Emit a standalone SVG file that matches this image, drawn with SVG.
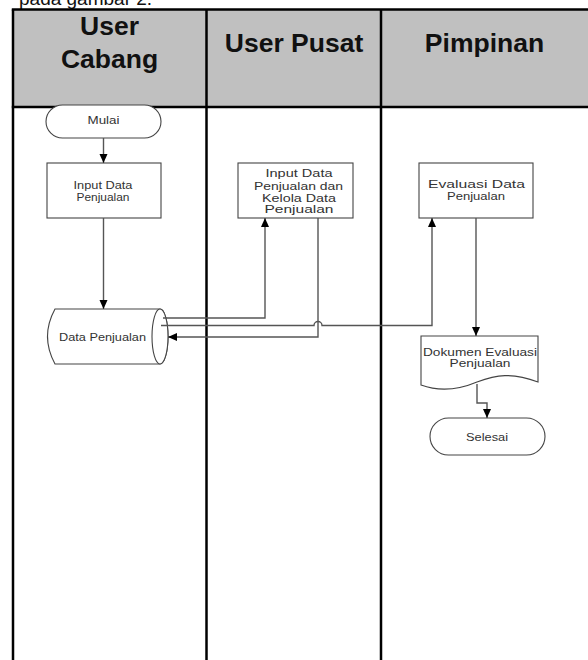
<svg xmlns="http://www.w3.org/2000/svg" width="588" height="660" viewBox="0 0 588 660">
<style>
.lane{stroke:#000;stroke-width:2.5;fill:none}
.hdr{font-family:"Liberation Sans",Arial,sans-serif;font-weight:bold;font-size:26.5px;fill:#111;text-anchor:middle}
.shp{fill:#fff;stroke:#444;stroke-width:1.1}
.lbl{font-family:"Liberation Sans",Arial,sans-serif;font-size:11.5px;fill:#333;text-anchor:middle}
.con{fill:none;stroke:#555;stroke-width:1.4}
</style>
<defs>
<marker id="ah" markerUnits="userSpaceOnUse" markerWidth="10" markerHeight="10" viewBox="0 0 10 10" refX="9" refY="5" orient="auto">
<path d="M0,1 L9,5 L0,9 Z" fill="#000"/>
</marker>
</defs>
<rect width="588" height="660" fill="#fff"/>
<text x="19" y="5" font-family="Liberation Sans,Arial,sans-serif" font-size="19" fill="#111">pada gambar 2.</text>
<g id="lanes">
<rect x="13" y="9.5" width="580" height="97.5" fill="#c0c0c0"/>
<line class="lane" x1="11.8" y1="9.5" x2="590" y2="9.5"/>
<line class="lane" x1="11.8" y1="107" x2="590" y2="107"/>
<line class="lane" x1="13" y1="9.5" x2="13" y2="662"/>
<line class="lane" x1="206.5" y1="9.5" x2="206.5" y2="662"/>
<line class="lane" x1="381" y1="9.5" x2="381" y2="662"/>
<text class="hdr" x="109.5" y="35">User</text>
<text class="hdr" x="109.5" y="68">Cabang</text>
<text class="hdr" x="294" y="52">User Pusat</text>
<text class="hdr" x="484.5" y="52">Pimpinan</text>
</g>
<g id="mulai">
<rect class="shp" x="46" y="105" width="115" height="33" rx="16.5"/>
<text class="lbl" x="103.5" y="124" textLength="32" lengthAdjust="spacingAndGlyphs">Mulai</text>
</g>
<g id="input-cabang">
<rect class="shp" x="47" y="163" width="114" height="55"/>
<text class="lbl" x="103" y="189" textLength="59" lengthAdjust="spacingAndGlyphs">Input Data</text>
<text class="lbl" x="103" y="201" textLength="53" lengthAdjust="spacingAndGlyphs">Penjualan</text>
</g>
<g id="input-pusat">
<rect class="shp" x="238" y="163" width="115" height="55"/>
<text class="lbl" x="299" y="177" textLength="67" lengthAdjust="spacingAndGlyphs">Input Data</text>
<text class="lbl" x="298.5" y="190" textLength="89" lengthAdjust="spacingAndGlyphs">Penjualan dan</text>
<text class="lbl" x="299" y="201.5" textLength="74" lengthAdjust="spacingAndGlyphs">Kelola Data</text>
<text class="lbl" x="299" y="213" textLength="69" lengthAdjust="spacingAndGlyphs">Penjualan</text>
</g>
<g id="evaluasi">
<rect class="shp" x="419" y="163" width="114" height="55"/>
<text class="lbl" x="476.5" y="188" textLength="97" lengthAdjust="spacingAndGlyphs">Evaluasi Data</text>
<text class="lbl" x="476" y="200" textLength="58" lengthAdjust="spacingAndGlyphs">Penjualan</text>
</g>
<g id="data-penjualan">
<path class="shp" d="M55,309 H160 A8,27.5 0 0 1 160,364 H55 Q40,336.5 55,309 Z"/>
<ellipse class="shp" cx="160" cy="336.5" rx="8" ry="27.5"/>
<text class="lbl" x="102.5" y="341" textLength="87" lengthAdjust="spacingAndGlyphs">Data Penjualan</text>
</g>
<g id="dokumen">
<path class="shp" d="M421,336 H538 V382 C512,372 496,375 477,382 C458,390 440,392 421,385 Z"/>
<text class="lbl" x="480" y="356" textLength="114" lengthAdjust="spacingAndGlyphs">Dokumen Evaluasi</text>
<text class="lbl" x="480" y="367" textLength="61" lengthAdjust="spacingAndGlyphs">Penjualan</text>
</g>
<g id="selesai">
<rect class="shp" x="430" y="418" width="115" height="37" rx="18.5"/>
<text class="lbl" x="487" y="441" textLength="42" lengthAdjust="spacingAndGlyphs">Selesai</text>
</g>
<g id="connectors">
<path class="con" d="M103.5,138 V163" marker-end="url(#ah)"/>
<path class="con" d="M103.5,218 V309" marker-end="url(#ah)"/>
<path class="con" d="M163,318 H265 V218" marker-end="url(#ah)"/>
<path class="con" d="M161,325.5 H314 A4,4 0 0 1 322,325.5 H432 V218" marker-end="url(#ah)"/>
<path class="con" d="M318,218 V337 H168" marker-end="url(#ah)"/>
<path class="con" d="M476,218 V336" marker-end="url(#ah)"/>
<path class="con" d="M477,384 V403 H487 V418" marker-end="url(#ah)"/>
</g>
</svg>
